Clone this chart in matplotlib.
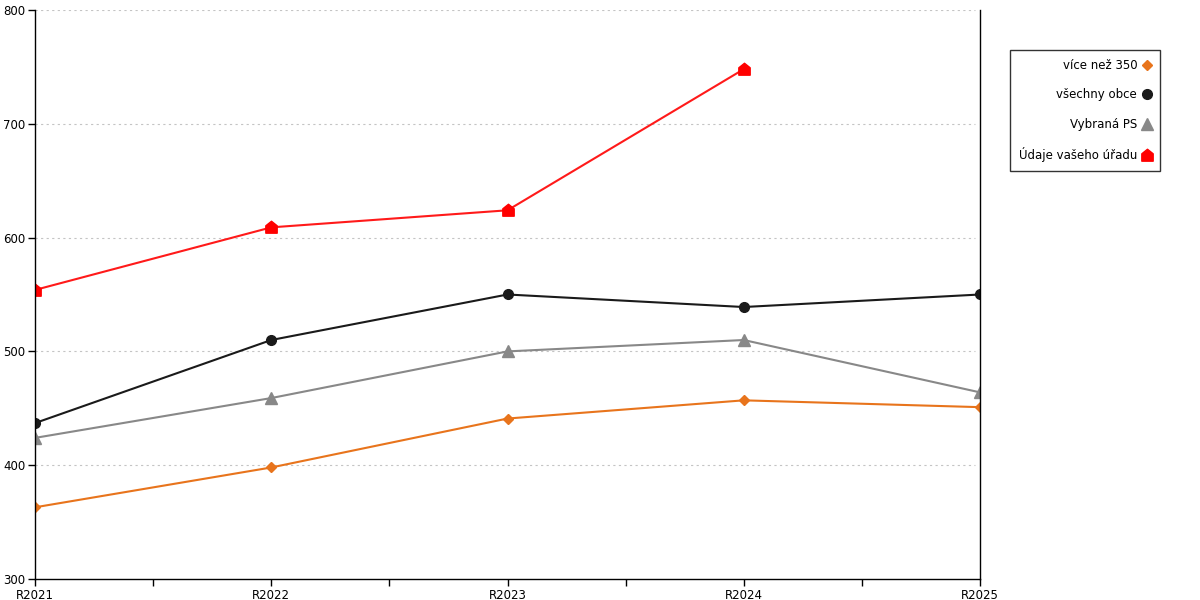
import matplotlib
matplotlib.use("Agg")
import matplotlib.pyplot as plt
import numpy as np
from matplotlib.path import Path

# data
years = ["R2021", "R2022", "R2023", "R2024", "R2025"]
vice_nez_350 = [363, 398, 441, 457, 451]
vsechny_obce = [437, 510, 550, 539, 550]
vybrana_ps = [424, 459, 500, 510, 464]
udaje_uradu = [554, 609, 624, 748]

# house shaped marker for the red series
house = Path([(-1, -1), (1, -1), (1, 0.3), (0, 1.1), (-1, 0.3), (-1, -1)],
             [Path.MOVETO, Path.LINETO, Path.LINETO, Path.LINETO, Path.LINETO, Path.CLOSEPOLY])

plt.rcParams['font.family'] = ['DejaVu Sans']

fig = plt.figure(figsize=(12, 6), dpi=100)
ax = fig.add_axes([35/1200, 21/600, 945/1200, 569/600])

x = np.arange(len(years))
ax.plot(x, vice_nez_350, color="#e8741c", lw=1.5, marker="D", ms=5, label="více než 350")
ax.plot(x, vsechny_obce, color="#1a1a1a", lw=1.5, marker="o", ms=7, label="všechny obce")
ax.plot(x, vybrana_ps, color="#888888", lw=1.5, marker="^", ms=8, label="Vybraná PS")
ax.plot(x[:len(udaje_uradu)], udaje_uradu, color="#ff1a1a", lw=1.5, marker=house, ms=9,
        markerfacecolor="#ff0000", markeredgecolor="#ff0000", label="Údaje vašeho úřadu")

ax.set_xlim(0, 4)
ax.set_ylim(300, 800)
ax.set_xticks(x)
ax.set_xticklabels(years)
ax.set_xticks(np.arange(0.5, 4, 1), minor=True)
ax.set_yticks([300, 400, 500, 600, 700, 800])

for y in [400, 500, 600, 700, 800]:
    ax.plot([0, 3.98], [y, y], color="#c4c4c4", lw=0.8, ls=(0, (2, 3)), zorder=0)

ax.spines['top'].set_visible(False)
for s in ['left', 'right', 'bottom']:
    ax.spines[s].set_linewidth(1)
    ax.spines[s].set_color('black')
ax.tick_params(axis='both', which='both', direction='out', labelsize=8.5, length=5, width=1, pad=2)
ax.tick_params(axis='x', which='minor', length=5)
ax.tick_params(axis='y', right=False)

leg = ax.legend(loc="upper left", bbox_to_anchor=(1010/1200, 1 - 50/600), bbox_transform=fig.transFigure,
                markerfirst=False, frameon=True, fancybox=False, fontsize=8.5, borderpad=0.75,
                labelspacing=1.4, handlelength=0.8, handletextpad=0.4, borderaxespad=0)
leg.get_frame().set_edgecolor("black")
leg.get_frame().set_linewidth(1)
for h in leg.legend_handles:
    h.set_linestyle("none")

fig.savefig("out.png", dpi=100)
